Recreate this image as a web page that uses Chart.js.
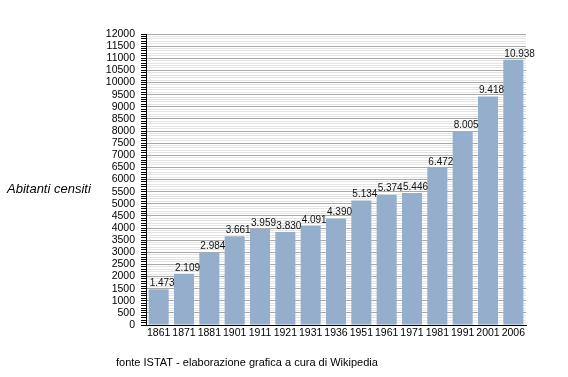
<!DOCTYPE html>
<html>
<head>
<meta charset="utf-8">
<script src="https://cdn.jsdelivr.net/npm/chart.js@4"></script>
<style>
  html, body { margin: 0; padding: 0; background: #fff; }
  #wrap { width: 568px; height: 377px; }
</style>
</head>
<body>
<div id="wrap"><canvas id="abitanti" width="568" height="377"></canvas></div>
<script>
const anni = ['1861', '1871', '1881', '1901', '1911', '1921', '1931', '1936', '1951', '1961', '1971', '1981', '1991', '2001', '2006']
const abitanti = [1473, 2109, 2984, 3661, 3959, 3830, 4091, 4390, 5134, 5374, 5446, 6472, 8005, 9418, 10938]
const titoloAsse = 'Abitanti censiti'
const fonte = 'fonte ISTAT - elaborazione grafica a cura di Wikipedia'

// numero con il punto delle migliaia
function formatta(n) {
    return String(n).replace(/\B(?=(\d{3})+(?!\d))/g, '.')
}

// etichette sopra le barre + testi fuori dal grafico
const testiPlugin = {
    id: 'testi',
    afterDatasetsDraw(chart) {
        const ctx = chart.ctx
        ctx.save()
        ctx.fillStyle = '#111'
        ctx.font = '10px "Liberation Sans", Arial, sans-serif'
        ctx.textAlign = 'left'
        ctx.textBaseline = 'bottom'
        chart.getDatasetMeta(0).data.forEach((bar, i) => {
            ctx.fillText(formatta(abitanti[i]), bar.x - bar.width / 2 + 1, bar.y - 1)
        })
        ctx.restore()
    },
    afterDraw(chart) {
        const ctx = chart.ctx
        ctx.save()
        ctx.fillStyle = '#000'
        ctx.textBaseline = 'middle'
        ctx.textAlign = 'left'
        ctx.font = 'italic 13px "Liberation Sans", Arial, sans-serif'
        ctx.fillText(titoloAsse, 7, 189)
        ctx.font = '11px "Liberation Sans", Arial, sans-serif'
        ctx.fillText(fonte, 116, 363)
        ctx.restore()
    }
}

const grafico = document.getElementById('abitanti').getContext('2d')

new Chart(grafico, {
    type: 'bar',
    data: {
        labels: anni,
        datasets: [{
            data: abitanti,
            backgroundColor: '#94aecb',
            borderWidth: 0,
            barPercentage: 0.79,
            categoryPercentage: 1.0
        }]
    },
    options: {
        responsive: false,
        animation: false,
        layout: {
            padding: { top: 34, right: 42, left: 0, bottom: 0 }
        },
        scales: {
            x: {
                grid: { display: false, drawTicks: false, tickLength: 0 },
                border: { color: '#000', width: 1 },
                ticks: {
                    color: '#000',
                    padding: 2,
                    maxRotation: 0,
                    autoSkip: false,
                    font: { family: '"Liberation Sans", Arial, sans-serif', size: 10.5 }
                },
                afterFit(scale) { scale.height = 52 }
            },
            y: {
                min: 0,
                max: 12000,
                border: { color: '#000', width: 1 },
                grid: {
                    color: (c) => (c.tick && c.tick.value % 500 === 0) ? '#a9a9a9' : '#e4e4e4',
                    tickColor: '#000',
                    tickLength: 5
                },
                ticks: {
                    stepSize: 100,
                    maxTicksLimit: 200,
                    autoSkip: false,
                    color: '#000',
                    padding: 6,
                    font: { family: '"Liberation Sans", Arial, sans-serif', size: 10.5 },
                    callback: (v) => v % 500 === 0 ? String(v) : ''
                },
                afterFit(scale) { scale.width = 146 }
            }
        },
        plugins: {
            legend: { display: false },
            tooltip: { enabled: false }
        }
    },
    plugins: [testiPlugin]
})
</script>
</body>
</html>
